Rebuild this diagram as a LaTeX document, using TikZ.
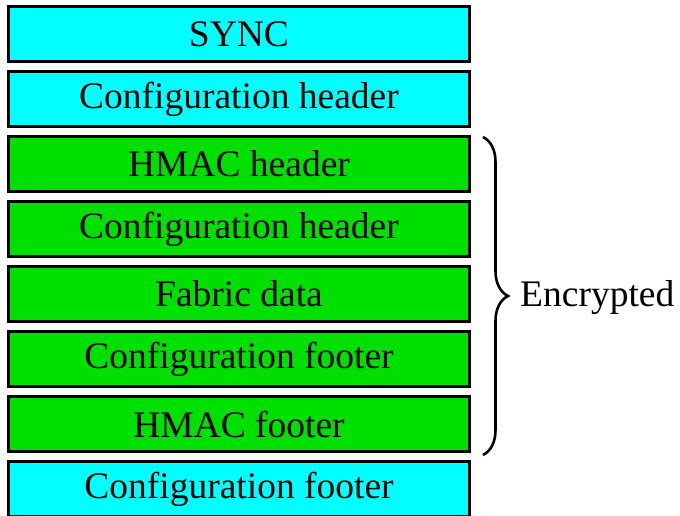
\documentclass[tikz,border=0pt]{standalone}
\usepackage{fontspec}
\setmainfont{Liberation Serif}
\usetikzlibrary{decorations.pathreplacing}
\definecolor{hdrcyan}{RGB}{0,255,255}
\definecolor{encgreen}{RGB}{0,224,0}
\begin{document}
\begin{tikzpicture}[x=1pt,y=-1pt,
  field/.style={draw=black, line width=3pt, minimum width=461pt, minimum height=55pt,
    inner sep=0pt, font=\fontsize{37.5}{40}\selectfont},
  plainfield/.style={field, fill=hdrcyan},
  secfield/.style={field, fill=encgreen}]
\useasboundingbox (0,0) rectangle (680,516);
% bitstream layout, one field per row
\node[plainfield] (sync) at (239,34)  {SYNC};
\node[plainfield] (ch1)  at (239,99)  {Configuration header};
\node[secfield]   (hh)   at (239,164) {HMAC header};
\node[secfield]   (ch2)  at (239,229) {Configuration header};
\node[secfield]   (fd)   at (239,294) {Fabric data};
\node[secfield]   (cf1)  at (239,359) {Configuration footer};
\node[secfield]   (hf)   at (239,424) {HMAC footer};
\node[plainfield] (cf2)  at (239,489) {Configuration footer};
% brace spanning the encrypted fields
\coordinate (bt) at (483,137);
\coordinate (bb) at (483,455);
\draw[line width=2.6pt, decorate, decoration={brace, amplitude=25pt}] (bt) -- (bb);
\node[anchor=base west, inner sep=0pt, font=\fontsize{37.5}{40}\selectfont] (enc) at (520,306.5) {Encrypted};
\end{tikzpicture}
\end{document}
